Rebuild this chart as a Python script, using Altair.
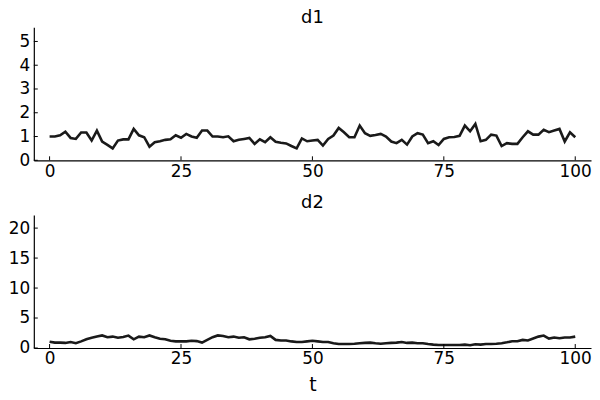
import altair as alt
import pandas as pd

t = list(range(101))
d1 = [1.0,1.0,1.05,1.2,0.94,0.9,1.17,1.17,0.83,1.25,0.79,0.65,0.5,0.83,0.88,0.88,1.32,1.05,0.97,0.57,
      0.76,0.8,0.86,0.88,1.05,0.95,1.11,1.0,0.95,1.25,1.25,1.0,1.0,0.97,1.01,0.8,0.86,0.9,0.94,0.69,
      0.88,0.76,0.97,0.78,0.74,0.71,0.6,0.5,0.92,0.8,0.83,
      0.86,0.62,0.9,1.04,1.36,1.18,0.97,0.97,1.46,1.14,1.03,1.06,1.11,1.0,0.79,0.72,0.86,0.66,1.0,1.14,
      1.08,0.72,0.8,0.64,0.9,0.97,0.98,1.03,1.46,1.22,1.53,0.8,0.86,1.08,1.04,0.6,0.72,0.69,0.69,0.97,
      1.22,1.08,1.08,1.28,1.18,1.25,1.32,0.79,1.18,0.97]
d2 = [1.06,0.9,0.9,0.85,1.0,0.8,1.1,1.45,1.7,1.9,2.1,1.8,1.9,1.7,1.85,2.07,1.45,1.9,1.8,2.1,
      1.8,1.55,1.45,1.2,1.1,1.1,1.1,1.2,1.15,0.9,1.35,1.8,2.1,2.0,1.8,1.9,1.7,1.8,1.45,1.55,
      1.7,1.8,2.0,1.35,1.25,1.25,1.1,1.0,1.0,1.1,1.2,
      1.1,1.0,1.0,0.8,0.67,0.67,0.67,0.72,0.8,0.85,0.9,0.8,0.72,0.8,0.85,0.9,1.0,0.85,0.9,0.8,
      0.8,0.67,0.56,0.5,0.5,0.5,0.5,0.5,0.56,0.45,0.62,0.56,0.67,0.67,0.72,0.8,0.95,1.12,1.12,1.35,
      1.25,1.57,1.9,2.07,1.57,1.74,1.62,1.74,1.74,1.9]

x_ticks = [0, 25, 50, 75, 100]
y1_ticks = [0, 1, 2, 3, 4, 5]
y2_ticks = [0, 5, 10, 15, 20]

W, H = 561, 134
FONT = "DejaVu Sans"


def panel(vals, name, ymax, yticks, xtitle, toff):
    df = pd.DataFrame({"t": t, "v": vals})
    xs = alt.Scale(domain=[-3, 103], nice=False, zero=False)
    ys = alt.Scale(domain=[0, ymax], nice=False)
    xaxis = alt.Axis(values=x_ticks, ticks=False, grid=False, labelPadding=3,
                     labelOverlap=False, labelFlush=False,
                     title=xtitle if xtitle else None, titlePadding=9,
                     domainColor="black", domainWidth=1.2)
    yaxis = alt.Axis(values=yticks, ticks=False, grid=False, labelPadding=4,
                     labelOverlap=False, labelFlush=False,
                     title=None, minExtent=26, maxExtent=26,
                     domainColor="black", domainWidth=1.2)
    line = alt.Chart(df).mark_line(color="#1a1a1a", strokeWidth=2.6).encode(
        x=alt.X("t:Q", scale=xs, axis=xaxis),
        y=alt.Y("v:Q", scale=ys, axis=yaxis),
    )
    xt = alt.Chart(pd.DataFrame({"x": x_ticks})).mark_rule(color="black", strokeWidth=1).encode(
        x=alt.X("x:Q", scale=xs, axis=xaxis), y=alt.value(H), y2=alt.value(H - 4))
    yt = alt.Chart(pd.DataFrame({"y": yticks})).mark_rule(color="black", strokeWidth=1).encode(
        y=alt.Y("y:Q", scale=ys, axis=yaxis), x=alt.value(0), x2=alt.value(4))
    return alt.layer(line, xt, yt).properties(
        width=W, height=H,
        title=alt.TitleParams(name, fontSize=18, font=FONT, fontWeight="normal",
                              color="black", offset=toff))


c1 = panel(d1, "d1", 5.6, y1_ticks, None, 0)
c2 = panel(d2, "d2", 22.2, y2_ticks, "t", 3)

chart = alt.vconcat(c1, c2, spacing=15).properties(
    padding={"left": 0, "top": 0, "right": 0, "bottom": 0},
    background="white",
).configure_view(stroke=None).configure_axis(
    labelFont=FONT, labelFontSize=17, labelColor="black",
    titleFont=FONT, titleFontSize=19, titleColor="black", titleFontWeight="normal",
)

chart.save("out.html", embed_options={"renderer": "svg", "actions": False})
